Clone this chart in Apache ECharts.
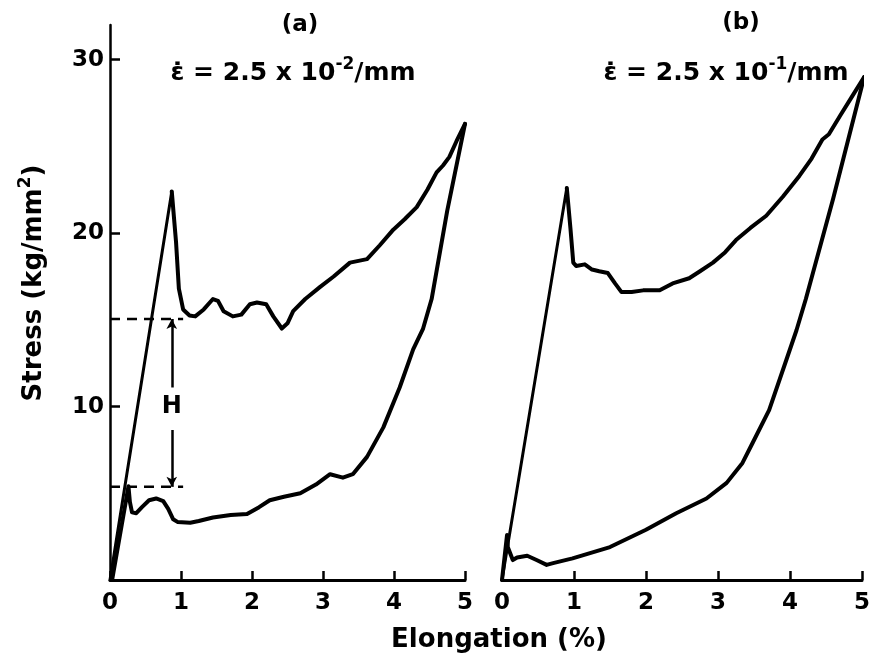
<!DOCTYPE html>
<html>
<head>
<meta charset="utf-8">
<script src="https://cdn.jsdelivr.net/npm/echarts@6/dist/echarts.min.js"></script>
<style>html,body{margin:0;padding:0;background:#fff;}#c{width:873px;height:656px;}</style>
</head>
<body>
<div id="c"></div>
<script>
// ---- data (elongation %, stress kg/mm^2) ----
const xTicks = [0, 1, 2, 3, 4, 5];
const yTicks = [10, 20, 30];

// panel (a)  strain rate 2.5e-2 /mm
const aLoad = [[0, 0], [0.87, 22.4]];
const aUpper = [[0.87, 22.4], [0.93, 19.5], [0.97, 16.8], [1.03, 15.6], [1.12, 15.25], [1.2, 15.2], [1.32, 15.6],
  [1.45, 16.2], [1.52, 16.1], [1.6, 15.5], [1.73, 15.2], [1.85, 15.3], [1.97, 15.9], [2.07, 16.0], [2.2, 15.9],
  [2.3, 15.2], [2.42, 14.5], [2.5, 14.8], [2.58, 15.5], [2.75, 16.2], [2.96, 16.9], [3.15, 17.5], [3.38, 18.3],
  [3.62, 18.5], [3.8, 19.3], [3.99, 20.2], [4.15, 20.8], [4.32, 21.5], [4.47, 22.5], [4.6, 23.5], [4.69, 23.9],
  [4.78, 24.4], [4.88, 25.3], [5.0, 26.3]];
const aLower = [[5.0, 26.3], [4.75, 21.3], [4.53, 16.2], [4.41, 14.5], [4.27, 13.3], [4.08, 11.1], [3.85, 8.8],
  [3.62, 7.1], [3.42, 6.1], [3.28, 5.9], [3.1, 6.1], [2.9, 5.5], [2.68, 5.0], [2.45, 4.8], [2.25, 4.6], [2.1, 4.2],
  [1.93, 3.8], [1.7, 3.75], [1.45, 3.6], [1.25, 3.4], [1.13, 3.3], [0.95, 3.35], [0.89, 3.5], [0.82, 4.1],
  [0.75, 4.55], [0.65, 4.7], [0.55, 4.6], [0.45, 4.2], [0.37, 3.85], [0.31, 3.9], [0.28, 4.5], [0.26, 5.4], [0.03, 0]];
const aUpperLevel = [[0, 15.05], [1.03, 15.05]];
const aLowerLevel = [[0, 5.37], [1.03, 5.37]];
const hX = 0.87;
const hArrowUp = [[hX, 11.1], [hX, 15.05]];
const hArrowDown = [[hX, 8.65], [hX, 5.37]];
const hLabel = [[hX, 10]];

// panel (b)  strain rate 2.5e-1 /mm
const bLoad = [[0, 0], [0.9, 22.6]];
const bUpper = [[0.9, 22.6], [0.95, 20.3], [0.99, 18.3], [1.03, 18.1], [1.15, 18.2], [1.25, 17.9], [1.35, 17.8],
  [1.47, 17.7], [1.57, 17.1], [1.66, 16.6], [1.8, 16.6], [1.96, 16.7], [2.19, 16.7], [2.37, 17.1], [2.6, 17.4],
  [2.75, 17.8], [2.93, 18.3], [3.1, 18.9], [3.25, 19.6], [3.45, 20.3], [3.67, 21.0], [3.9, 22.1], [4.13, 23.3],
  [4.3, 24.3], [4.45, 25.4], [4.54, 25.7], [4.7, 26.8], [4.85, 27.8], [5.03, 29.0]];
const bLower = [[5.03, 29.0], [4.6, 22.0], [4.22, 16.2], [4.09, 14.4], [3.95, 12.7], [3.71, 9.8], [3.48, 7.9],
  [3.34, 6.75], [3.12, 5.6], [2.84, 4.7], [2.42, 3.85], [2.0, 2.9], [1.5, 1.9], [0.98, 1.25], [0.71, 0.97],
  [0.62, 0.87], [0.48, 1.15], [0.35, 1.4], [0.21, 1.3], [0.15, 1.15], [0.08, 1.9], [0.07, 2.6], [0.0, 0]];

// ---- chart ----
const FONT = 'DejaVu Sans';
const chart = echarts.init(document.getElementById('c'), null, { renderer: 'canvas' });

function xAx(gi) {
  return {
    type: 'value', gridIndex: gi, min: 0, max: 5, interval: 1,
    axisLine: { show: true, lineStyle: { color: '#000', width: 3 } },
    axisTick: { show: true, inside: true, length: 9, lineStyle: { color: '#000', width: 2.5 } },
    axisLabel: { show: true, color: '#000', fontSize: 23, fontWeight: 'bold', fontFamily: FONT, margin: 12,
      customValues: xTicks, showMinLabel: true, showMaxLabel: true },
    splitLine: { show: false }
  };
}
function line(data, gi, w) {
  return { type: 'line', xAxisIndex: gi, yAxisIndex: gi, data: data, symbol: 'none', silent: true,
    lineStyle: { color: '#000', width: w, cap: 'round', join: 'round' }, animation: false };
}
const supStyle = { font: 'bold 17px ' + FONT, fill: '#000', padding: [0, 0, 16, 0] };
function txt(x, y, text, size, extra) {
  return Object.assign({ type: 'text', x: x, y: y, silent: true,
    style: { text: text, font: 'bold ' + size + 'px ' + FONT, fill: '#000', align: 'center', verticalAlign: 'middle',
      rich: { s: supStyle } } }, extra || {});
}

const option = {
  backgroundColor: '#fff',
  animation: false,
  grid: [
    { left: 110, top: 25, width: 355, height: 555 },
    { left: 502, top: 25, width: 361, height: 555 }
  ],
  xAxis: [xAx(0), xAx(1)],
  yAxis: [
    {
      type: 'value', gridIndex: 0, min: 0, max: 32, interval: 10,
      axisLine: { show: true, lineStyle: { color: '#000', width: 2.5 } },
      axisTick: { show: true, inside: true, length: 10, customValues: yTicks, lineStyle: { color: '#000', width: 2.5 } },
      axisLabel: { show: true, color: '#000', fontSize: 23, fontWeight: 'bold', fontFamily: FONT, margin: 6, customValues: yTicks },
      splitLine: { show: false }
    },
    { type: 'value', gridIndex: 1, min: 0, max: 32, interval: 10, show: false }
  ],
  graphic: [
    txt(300, 25, '(a)', 23),
    txt(293, 73, 'ε̇ = 2.5 x 10{s|-2}/mm', 25),
    txt(741, 23, '(b)', 23),
    txt(726, 73, 'ε̇ = 2.5 x 10{s|-1}/mm', 25),
    txt(499, 640, 'Elongation (%)', 26),
    txt(34, 283, 'Stress (kg/mm{s|2})', 26, { rotation: Math.PI / 2 })
  ],
  series: [
    line(aLoad, 0, 3),
    line(aUpper, 0, 4),
    line(aLower, 0, 4),
    Object.assign(line(aUpperLevel, 0, 2.5), { lineStyle: { color: '#000', width: 2.5, type: [10, 7] } }),
    Object.assign(line(aLowerLevel, 0, 2.5), { lineStyle: { color: '#000', width: 2.5, type: [10, 7] } }),
    {
      type: 'scatter', xAxisIndex: 0, yAxisIndex: 0, data: hLabel, symbolSize: 1, silent: true,
      itemStyle: { color: 'rgba(0,0,0,0)', opacity: 1 },
      label: { show: true, position: 'inside', formatter: 'H', color: '#000', opacity: 1, fontSize: 24, fontWeight: 'bold', fontFamily: FONT },
      markLine: {
        silent: true, symbol: ['none', 'arrow'], symbolSize: [8, 10],
        label: { show: false },
        lineStyle: { color: '#000', width: 2.5, type: 'solid', opacity: 1 },
        data: [
          [{ coord: hArrowUp[0] }, { coord: hArrowUp[1] }],
          [{ coord: hArrowDown[0] }, { coord: hArrowDown[1] }]
        ]
      }
    },
    line(bLoad, 1, 3),
    line(bUpper, 1, 4),
    line(bLower, 1, 4)
  ]
};
chart.setOption(option);
</script>
</body>
</html>
